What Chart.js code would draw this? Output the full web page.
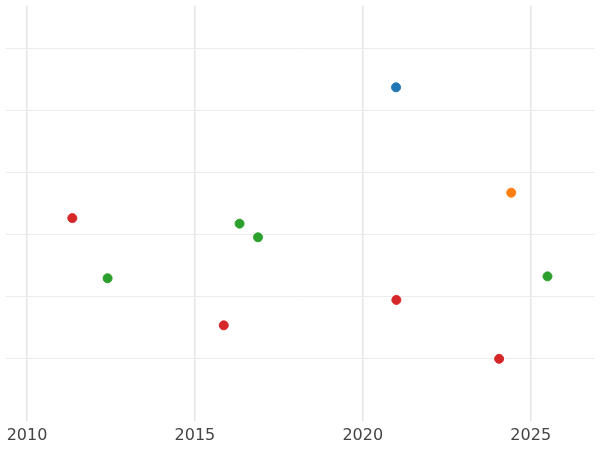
<!DOCTYPE html>
<html><head><style>html,body{margin:0;padding:0;background:#fff}#w{width:600px;height:450px}</style>
<script src="https://cdn.jsdelivr.net/npm/chart.js@4"></script></head>
<body><div id="w"><canvas id="c"></canvas></div>
<script>
const blueX=[2020.99], blueY=[5.38];
const orangeX=[2024.42], orangeY=[3.68];
const greenX=[2016.33,2016.88,2012.4,2025.5], greenY=[3.18,2.96,2.30,2.33];
const redX=[2011.35,2021.0,2015.86,2024.06], redY=[3.27,1.95,1.54,1.0];
const xTicks=[2010,2015,2020,2025];
const yTicks=[1,2,3,4,5,6];
const pts=(xs,ys)=>xs.map((x,i)=>({x,y:ys[i]}));
const ds=(xs,ys,c)=>({data:pts(xs,ys),backgroundColor:c,borderColor:c,pointRadius:4.5,pointHoverRadius:4.5});
new Chart(document.getElementById('c'),{type:'scatter',
data:{datasets:[ds(blueX,blueY,'#1f77b4'),ds(orangeX,orangeY,'#ff7f0e'),ds(greenX,greenY,'#2ca02c'),ds(redX,redY,'#d62728')]},
options:{responsive:true,maintainAspectRatio:false,animation:false,layout:{padding:{left:-6,right:-6,top:-6,bottom:0}},
plugins:{legend:{display:false},tooltip:{enabled:false}},
scales:{x:{type:'linear',min:2009.36,max:2026.9,afterBuildTicks:a=>{a.ticks=xTicks.map(v=>({value:v}));},
grid:{color:'#e6e6e6',lineWidth:1.5,drawTicks:false},border:{display:false},
ticks:{color:'#444',font:{family:'DejaVu Sans',size:16},padding:5,callback:v=>String(v)}},
y:{min:0,max:6.7,display:true,afterBuildTicks:a=>{a.ticks=yTicks.map(v=>({value:v}));},ticks:{display:false},grid:{color:'#ececec',drawTicks:false},border:{display:false}}}}});
</script></body></html>
